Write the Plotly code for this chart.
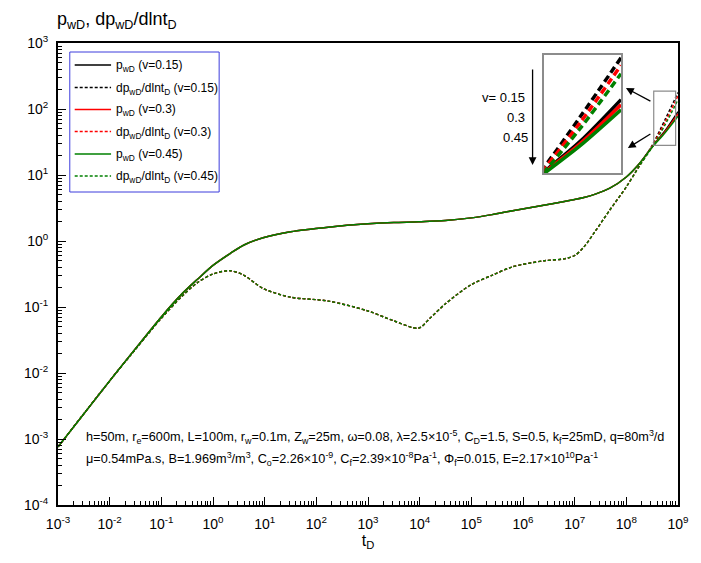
import math
import plotly.graph_objects as go

# ---------------- data ----------------
t_D = [1e-3, 1e-2, 3.16e-2, 0.1, 0.251, 0.501, 1.0, 2.14, 3.98, 9.33, 31.6,
       170, 1e3, 3.16e3, 9.5e3, 1.58e4, 3.16e4, 1e5, 2.51e5, 6.31e5, 2.51e6,
       6.31e6, 1e7, 1.51e7, 2.51e7, 4.79e7, 1e8, 1.78e8, 3.16e8, 5.62e8, 1e9]

p_wD_045 = [7.6e-4, 7.6e-3, 0.0234, 0.0708, 0.158, 0.263, 0.427, 0.646, 0.871,
            1.12, 1.38, 1.62, 1.82, 1.91, 1.95, 2.00, 2.04, 2.24, 2.51, 2.88,
            3.47, 3.98, 4.27, 4.57, 5.13, 6.31, 9.33, 14.8, 26.3, 43.7, 77.6]
dp_wD_045 = [7.6e-4, 7.6e-3, 0.0229, 0.0676, 0.145, 0.234, 0.316, 0.355, 0.302,
             0.191, 0.141, 0.123, 0.0871, 0.0617, 0.0479, 0.0676, 0.112, 0.219,
             0.302, 0.407, 0.501, 0.537, 0.603, 0.813, 1.41, 2.95, 6.61, 13.5,
             26.3, 57.5, 138]

p_wD_030 = p_wD_045[:28] + [26.6, 45.2, 84.1]
dp_wD_030 = dp_wD_045[:27] + [13.6, 27.5, 63.1, 158]
p_wD_015 = p_wD_045[:28] + [26.9, 46.8, 91.2]
dp_wD_015 = dp_wD_045[:27] + [13.8, 28.2, 69.2, 178]

poisson = ["0.15", "0.3", "0.45"]
colors = ["#000000", "#ff0000", "#008000"]
p_series = [p_wD_015, p_wD_030, p_wD_045]
dp_series = [dp_wD_015, dp_wD_030, dp_wD_045]

x_tick_vals = [1e-3, 1e-2, 1e-1, 1, 1e1, 1e2, 1e3, 1e4, 1e5, 1e6, 1e7, 1e8, 1e9]
x_tick_text = ["10<sup>-3</sup>", "10<sup>-2</sup>", "10<sup>-1</sup>", "10<sup>0</sup>",
               "10<sup>1</sup>", "10<sup>2</sup>", "10<sup>3</sup>", "10<sup>4</sup>",
               "10<sup>5</sup>", "10<sup>6</sup>", "10<sup>7</sup>", "10<sup>8</sup>",
               "10<sup>9</sup>"]
y_tick_vals = [1e-4, 1e-3, 1e-2, 1e-1, 1, 1e1, 1e2, 1e3]
y_tick_text = ["10<sup>-4</sup>", "10<sup>-3</sup>", "10<sup>-2</sup>", "10<sup>-1</sup>",
               "10<sup>0</sup>", "10<sup>1</sup>", "10<sup>2</sup>", "10<sup>3</sup>"]

# zoom window (data units) magnified in the inset
zoom_t = [3.39e8, 1e9]
zoom_p = [28.2, 186]

# ---------------- layout geometry ----------------
W, H = 701, 563
L, R, T, B = 58, 689, 43, 505
FONT = "Arial, Liberation Sans, sans-serif"
SMOOTH = 0.85


def px(x):
    return (x - L) / (R - L)


def py(y):
    return (B - y) / (B - T)


fig = go.Figure()

for v, c, p, dp in zip(poisson, colors, p_series, dp_series):
    fig.add_trace(go.Scatter(x=t_D, y=dp, mode="lines",
                             line=dict(color=c, width=1.4, dash="3px,2px",
                                       shape="spline", smoothing=SMOOTH),
                             showlegend=False, hoverinfo="skip"))
    fig.add_trace(go.Scatter(x=t_D, y=p, mode="lines",
                             line=dict(color=c, width=1.5,
                                       shape="spline", smoothing=SMOOTH),
                             showlegend=False, hoverinfo="skip"))

# inset: same curves, magnified
for v, c, p, dp in zip(poisson, colors, p_series, dp_series):
    fig.add_trace(go.Scatter(x=t_D, y=p, mode="lines",
                             line=dict(color=c, width=3.5,
                                       shape="spline", smoothing=SMOOTH),
                             xaxis="x2", yaxis="y2",
                             showlegend=False, hoverinfo="skip"))
for v, c, p, dp in zip(poisson, colors, p_series, dp_series):
    fig.add_trace(go.Scatter(x=t_D, y=dp, mode="lines",
                             line=dict(color=c, width=3.5, dash="7px,4px",
                                       shape="spline", smoothing=SMOOTH),
                             xaxis="x2", yaxis="y2",
                             showlegend=False, hoverinfo="skip"))

axis_common = dict(type="log", showline=True, linecolor="black", linewidth=2,
                   mirror=True, ticks="inside", ticklen=8, tickwidth=1.3,
                   tickcolor="black", showgrid=False, zeroline=False,
                   tickmode="array", ticklabelstandoff=5,
                   tickfont=dict(family=FONT, size=14, color="black"),
                   minor=dict(ticks="inside", ticklen=4, tickwidth=1,
                              tickcolor="black", dtick="D1", showgrid=False))

fig.update_layout(
    width=W, height=H,
    margin=dict(l=L, r=W - R, t=T, b=H - B),
    paper_bgcolor="white", plot_bgcolor="white",
    font=dict(family=FONT, color="black"),
    showlegend=False,
    xaxis=dict(axis_common, range=[-3, 9], tickvals=x_tick_vals,
               ticktext=x_tick_text,
               title=dict(text="t<sub>D</sub>", font=dict(size=16), standoff=3)),
    yaxis=dict(axis_common, range=[-4, 3], tickvals=y_tick_vals,
               ticktext=y_tick_text),
    xaxis2=dict(type="log", domain=[px(553), px(631)],
                range=[math.log10(zoom_t[0]), math.log10(zoom_t[1])],
                anchor="y2", showline=True, mirror=True, linecolor="#8c8c8c",
                linewidth=1.5, ticks="", showticklabels=False,
                showgrid=False, zeroline=False),
    yaxis2=dict(type="log", domain=[py(173), py(55)],
                range=[math.log10(zoom_p[0]), math.log10(zoom_p[1])],
                anchor="x2", showline=True, mirror=True, linecolor="#8c8c8c",
                linewidth=1.5, ticks="", showticklabels=False,
                showgrid=False, zeroline=False),
)

shapes = []
annotations = []

# zoom window marker on the main axes
shapes.append(dict(type="rect", xref="x", yref="y",
                   x0=zoom_t[0], x1=zoom_t[1] * 0.9, y0=zoom_p[0], y1=zoom_p[1],
                   line=dict(color="#8c8c8c", width=1.2)))

# legend box
shapes.append(dict(type="rect", xref="paper", yref="paper",
                   x0=px(70), x1=px(222), y0=py(192), y1=py(52),
                   line=dict(color="#3c3cdc", width=1), fillcolor="white",
                   layer="below"))
row_y = [65, 87.5, 109.5, 131.5, 154, 176]
labels = []
for v in poisson:
    labels.append(("p<sub>wD</sub> (v=%s)" % v, "solid"))
    labels.append(("dp<sub>wD</sub>/dlnt<sub>D</sub> (v=%s)" % v, "3px,2px"))
for i, (txt, dash) in enumerate(labels):
    c = colors[i // 2]
    y = row_y[i]
    shapes.append(dict(type="line", xref="paper", yref="paper",
                       x0=px(75), x1=px(112), y0=py(y), y1=py(y),
                       line=dict(color=c, width=1.4, dash=dash)))
    annotations.append(dict(xref="paper", yref="paper", x=px(115), y=py(y + 1),
                            xanchor="left", yanchor="middle", text=txt,
                            showarrow=False,
                            font=dict(family=FONT, size=12, color="black")))

# y-axis title
annotations.append(dict(xref="paper", yref="paper", x=px(55), y=py(21),
                        xanchor="left", yanchor="middle",
                        text="p<sub>wD</sub>, dp<sub>wD</sub>/dlnt<sub>D</sub>",
                        showarrow=False, font=dict(family=FONT, size=18)))

# parameter lines
annotations.append(dict(
    xref="paper", yref="paper", x=px(84), y=py(437), xanchor="left",
    yanchor="middle", showarrow=False, font=dict(family=FONT, size=12.7),
    text="h=50m, r<sub>e</sub>=600m, L=100m, r<sub>w</sub>=0.1m, Z<sub>w</sub>=25m, "
         "ω=0.08, λ=2.5×10<sup>-5</sup>, C<sub>D</sub>=1.5, S=0.5, "
         "k<sub>f</sub>=25mD, q=80m<sup>3</sup>/d"))
annotations.append(dict(
    xref="paper", yref="paper", x=px(84), y=py(459), xanchor="left",
    yanchor="middle", showarrow=False, font=dict(family=FONT, size=12.7),
    text="μ=0.54mPa.s, B=1.969m<sup>3</sup>/m<sup>3</sup>, C<sub>o</sub>=2.26×10<sup>-9</sup>, "
         "C<sub>f</sub>=2.39×10<sup>-8</sup>Pa<sup>-1</sup>, Φ<sub>f</sub>=0.015, "
         "E=2.17×10<sup>10</sup>Pa<sup>-1</sup>"))

# Poisson's ratio labels and direction arrow
annotations.append(dict(xref="paper", yref="paper", x=px(535), y=py(97),
                        xanchor="right", yanchor="middle", text="v= 0.15",
                        showarrow=False, font=dict(family=FONT, size=13)))
for txt, y in [("0.3", 117), ("0.45", 137)]:
    annotations.append(dict(xref="paper", yref="paper", x=px(524), y=py(y),
                            xanchor="center", yanchor="middle", text=txt,
                            showarrow=False, font=dict(family=FONT, size=13)))
annotations.append(dict(xref="paper", yref="paper", x=px(541), y=py(165),
                        ax=0, ay=-97, text="", showarrow=True, arrowhead=2,
                        arrowsize=1.2, arrowwidth=1.3, arrowcolor="black"))

# arrows from the zoom window to the inset
annotations.append(dict(xref="paper", yref="paper", x=px(636), y=py(88),
                        ax=26, ay=14, text="", showarrow=True, arrowhead=2,
                        arrowsize=1.2, arrowwidth=1.3, arrowcolor="black"))
annotations.append(dict(xref="paper", yref="paper", x=px(638), y=py(148),
                        ax=24, ay=-15, text="", showarrow=True, arrowhead=2,
                        arrowsize=1.2, arrowwidth=1.3, arrowcolor="black"))

fig.update_layout(shapes=shapes, annotations=annotations)
fig.write_html("out.html")
